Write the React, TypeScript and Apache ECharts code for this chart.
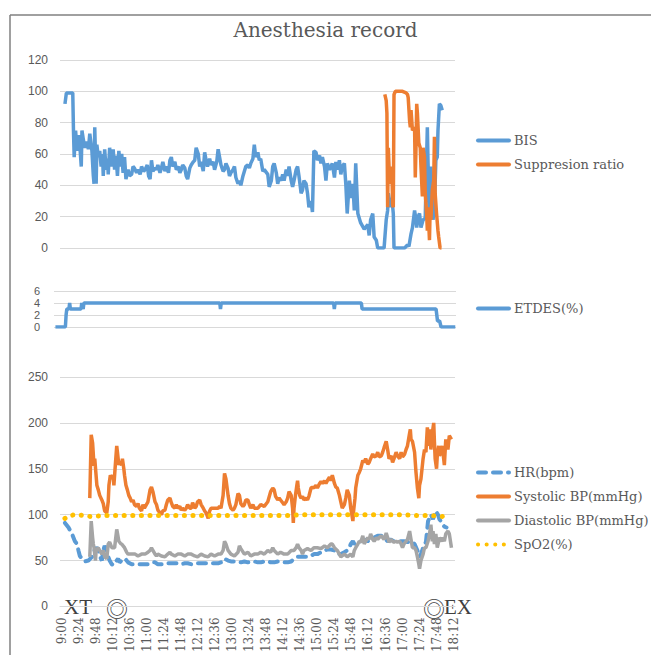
import React, { useEffect, useRef } from "react";
import * as echarts from "echarts";

// ---- Data (time = minutes after 9:00) ----
const tickMinutes = [0, 24, 48, 72, 96, 120, 144, 168, 192, 216, 240, 264, 288, 312, 336, 360, 384, 408, 432, 456, 480, 504, 528, 552];

const bisTimes = [4, 6, 10, 15, 16, 17, 19, 21, 23, 25, 27, 28, 30, 32, 35, 37, 39, 42, 44, 45, 46, 48, 49, 51, 53, 55, 57, 58, 60, 62, 64, 65, 67, 69, 70, 72, 74, 76, 78, 80, 82, 84, 86, 88, 90, 93, 95, 98, 100, 102, 105, 107, 110, 112, 115, 117, 120, 122, 124, 126, 128, 131, 133, 135, 138, 140, 142, 145, 147, 150, 152, 154, 156, 159, 161, 164, 166, 168, 170, 173, 175, 177, 180, 182, 185, 187, 189, 192, 194, 196, 199, 201, 203, 205, 208, 210, 213, 215, 218, 220, 222, 224, 227, 229, 231, 234, 236, 238, 241, 243, 245, 248, 250, 252, 255, 257, 259, 262, 264, 266, 269, 271, 273, 276, 278, 280, 283, 285, 290, 292, 295, 297, 299, 302, 304, 306, 309, 311, 313, 316, 318, 320, 323, 325, 327, 330, 332, 334, 337, 339, 341, 344, 346, 348, 351, 353, 355, 358, 360, 363, 365, 367, 370, 372, 374, 377, 379, 381, 384, 386, 388, 391, 393, 395, 398, 400, 402, 405, 407, 410, 412, 414, 417, 421, 426, 431, 433, 435, 438, 440, 443, 445, 450, 454, 457, 459, 460, 463, 465, 467, 468, 473, 478, 483, 487, 489, 492, 494, 497, 499, 500, 502, 504, 506, 509, 512, 515, 516, 518, 520, 523, 525, 527, 529, 530, 532, 534, 536];
const bisValues = [92, 99, 99, 99, 75, 58, 75, 62, 72, 65, 52, 75, 69, 64, 68, 63, 73, 62, 46, 41, 77, 41, 66, 58, 62, 52, 60, 46, 63, 50, 57, 47, 64, 52, 56, 63, 50, 59, 46, 62, 52, 60, 48, 58, 44, 50, 46, 47, 52, 51, 48, 50, 47, 52, 49, 50, 53, 46, 44, 56, 49, 51, 50, 53, 48, 51, 55, 49, 52, 48, 56, 58, 52, 55, 50, 52, 48, 50, 53, 51, 46, 44, 51, 53, 55, 56, 64, 60, 52, 55, 49, 61, 56, 52, 57, 53, 55, 50, 55, 63, 58, 53, 49, 50, 54, 51, 46, 48, 50, 52, 45, 41, 43, 40, 46, 49, 52, 53, 51, 54, 57, 66, 58, 61, 56, 57, 49, 50, 47, 39, 43, 52, 54, 48, 41, 45, 43, 47, 43, 50, 46, 52, 43, 39, 43, 50, 52, 46, 35, 37, 43, 41, 35, 26, 30, 23, 62, 61, 56, 59, 54, 58, 52, 43, 54, 50, 52, 54, 45, 55, 50, 56, 47, 52, 54, 41, 22, 43, 32, 41, 24, 54, 22, 16, 12, 15, 8, 18, 22, 7, 5, 0, 0, 0, 18, 24, 35, 26, 32, 22, 0, 0, 0, 0, 2, 1, 9, 13, 24, 18, 13, 20, 22, 13, 18, 19, 77, 54, 22, 52, 18, 26, 56, 58, 75, 92, 91, 88];

const srTimes = [455, 457, 458, 459, 460, 461, 463, 465, 466, 467, 468, 470, 475, 480, 485, 487, 488, 490, 491, 492, 494, 497, 498, 499, 500, 501, 503, 505, 506, 508, 509, 511, 512, 514, 515, 516, 518, 519, 520, 522, 524, 525, 526, 528, 530, 531, 533, 535];
const srValues = [98, 94, 86, 26, 64, 52, 41, 52, 28, 26, 98, 100, 100, 100, 99, 98, 96, 81, 77, 88, 75, 77, 45, 64, 92, 86, 67, 64, 52, 33, 64, 58, 35, 22, 11, 26, 5, 26, 18, 37, 43, 71, 35, 22, 11, 7, 0, 0];

const etTimes = [-9, 5, 6, 7, 10, 11, 12, 14, 27, 28, 30, 31, 33, 222, 223, 224, 382, 383, 384, 421, 422, 526, 528, 531, 533, 553];
const etValues = [0, 0, 2, 3, 3, 4, 3, 3, 3, 4, 3, 4, 4, 4, 3, 4, 4, 3, 4, 4, 3, 3, 1, 1, 0, 0];

const hrTimes = [4, 9, 14, 18, 21, 23, 25, 28, 30, 32, 37, 42, 44, 46, 49, 51, 53, 56, 58, 60, 63, 65, 67, 70, 72, 74, 77, 79, 81, 84, 86, 89, 93, 98, 103, 107, 112, 117, 121, 126, 131, 135, 140, 145, 149, 154, 159, 163, 168, 173, 177, 182, 187, 191, 196, 201, 206, 210, 215, 220, 224, 229, 234, 238, 243, 248, 252, 257, 262, 266, 271, 276, 280, 285, 290, 294, 299, 304, 308, 313, 318, 323, 327, 332, 337, 341, 346, 351, 355, 360, 365, 370, 374, 379, 384, 388, 393, 398, 402, 405, 407, 410, 412, 417, 421, 426, 431, 435, 440, 445, 450, 454, 459, 463, 468, 473, 478, 482, 487, 492, 497, 501, 504, 506, 509, 511, 513, 516, 518, 520, 523, 525, 527, 530, 532, 534, 537, 539, 542];
const hrValues = [91, 86, 79, 71, 68, 61, 55, 52, 50, 49, 50, 54, 57, 62, 64, 62, 55, 50, 61, 66, 61, 54, 50, 46, 45, 46, 50, 52, 48, 50, 50, 52, 48, 46, 46, 46, 46, 46, 46, 48, 48, 46, 46, 46, 47, 47, 47, 47, 46, 47, 47, 46, 47, 47, 47, 47, 47, 47, 47, 47, 48, 52, 50, 49, 49, 48, 48, 49, 48, 48, 49, 48, 48, 49, 49, 48, 48, 49, 49, 48, 48, 49, 52, 54, 54, 54, 54, 55, 57, 57, 59, 61, 62, 62, 61, 57, 57, 59, 61, 64, 68, 71, 68, 70, 71, 73, 71, 73, 75, 77, 77, 75, 71, 73, 71, 70, 71, 71, 70, 71, 68, 61, 54, 57, 64, 68, 70, 93, 96, 100, 95, 100, 104, 100, 95, 93, 89, 87, 86];

const sysTimes = [39, 41, 43, 45, 46, 49, 51, 53, 56, 58, 60, 63, 65, 66, 68, 70, 72, 73, 75, 77, 78, 80, 81, 84, 85, 87, 88, 90, 92, 94, 96, 98, 100, 102, 105, 107, 109, 112, 114, 116, 121, 124, 126, 128, 131, 133, 135, 138, 140, 142, 145, 147, 149, 152, 154, 156, 159, 161, 163, 166, 168, 170, 173, 175, 177, 180, 182, 184, 187, 189, 191, 194, 196, 199, 201, 203, 206, 208, 210, 213, 215, 220, 222, 224, 227, 229, 231, 234, 236, 238, 241, 243, 245, 248, 250, 252, 255, 257, 259, 262, 264, 266, 269, 271, 276, 280, 285, 290, 294, 297, 299, 301, 304, 306, 308, 311, 313, 316, 318, 320, 323, 325, 326, 327, 329, 331, 332, 333, 335, 337, 339, 341, 344, 346, 348, 351, 353, 355, 358, 360, 363, 365, 367, 370, 372, 374, 377, 379, 381, 384, 386, 388, 391, 393, 395, 398, 400, 402, 405, 407, 410, 411, 413, 414, 417, 419, 421, 424, 426, 428, 431, 433, 435, 438, 440, 443, 445, 447, 450, 452, 454, 457, 459, 461, 464, 466, 468, 471, 473, 476, 478, 480, 483, 485, 487, 490, 491, 492, 494, 497, 499, 501, 503, 504, 506, 509, 511, 513, 515, 516, 517, 518, 520, 522, 524, 525, 526, 528, 529, 531, 532, 534, 536, 538, 539, 541, 542, 544, 546, 549];
const sysValues = [118, 187, 178, 153, 161, 132, 127, 121, 116, 112, 104, 102, 114, 132, 143, 139, 143, 132, 154, 175, 168, 154, 158, 154, 161, 150, 143, 132, 127, 121, 118, 114, 116, 111, 109, 112, 107, 104, 111, 107, 114, 127, 130, 125, 114, 111, 105, 102, 100, 104, 105, 111, 116, 118, 113, 109, 107, 111, 107, 109, 105, 107, 105, 107, 111, 107, 107, 113, 107, 109, 114, 116, 111, 107, 104, 102, 96, 104, 107, 107, 107, 107, 109, 107, 121, 145, 139, 121, 112, 107, 105, 107, 111, 123, 121, 112, 109, 111, 116, 116, 111, 107, 111, 107, 107, 111, 109, 114, 125, 129, 127, 120, 116, 118, 116, 113, 111, 114, 118, 125, 121, 107, 91, 107, 121, 132, 137, 129, 121, 118, 120, 116, 118, 116, 120, 129, 130, 129, 132, 129, 134, 136, 134, 137, 134, 137, 141, 137, 143, 134, 130, 129, 121, 114, 107, 111, 118, 127, 121, 107, 93, 104, 118, 129, 143, 146, 150, 159, 157, 161, 155, 157, 161, 166, 163, 164, 168, 163, 164, 168, 173, 180, 171, 161, 164, 157, 161, 168, 164, 161, 168, 163, 166, 171, 175, 189, 193, 182, 180, 168, 146, 129, 118, 132, 139, 161, 171, 168, 195, 186, 175, 193, 171, 189, 200, 179, 161, 150, 164, 175, 164, 168, 175, 161, 154, 182, 179, 171, 186, 182, 188];

const diaTimes = [39, 41, 43, 44, 45, 47, 48, 51, 53, 56, 58, 60, 63, 65, 67, 70, 72, 74, 77, 78, 80, 83, 84, 86, 88, 91, 93, 98, 103, 107, 112, 117, 121, 124, 126, 128, 131, 133, 135, 140, 145, 149, 152, 154, 159, 163, 168, 173, 177, 182, 187, 191, 196, 201, 206, 210, 215, 220, 224, 227, 229, 231, 234, 238, 243, 248, 250, 252, 257, 262, 266, 271, 276, 280, 285, 290, 294, 297, 299, 304, 308, 313, 318, 323, 327, 330, 332, 334, 337, 339, 341, 346, 351, 355, 360, 365, 370, 374, 379, 381, 384, 388, 393, 398, 402, 407, 410, 412, 414, 417, 419, 421, 424, 426, 428, 431, 433, 435, 438, 440, 443, 445, 447, 450, 452, 454, 457, 459, 461, 464, 466, 468, 471, 473, 476, 478, 480, 482, 485, 487, 490, 492, 494, 497, 499, 501, 503, 504, 506, 509, 511, 513, 516, 518, 520, 522, 523, 525, 527, 529, 531, 532, 535, 537, 539, 541, 544, 546, 549];
const diaValues = [54, 93, 75, 68, 64, 50, 61, 64, 61, 57, 61, 54, 52, 68, 70, 64, 64, 64, 84, 80, 71, 68, 68, 66, 64, 59, 57, 57, 57, 55, 57, 57, 59, 61, 64, 61, 57, 55, 57, 55, 54, 57, 59, 57, 55, 57, 57, 55, 57, 57, 55, 54, 57, 55, 54, 57, 55, 57, 57, 61, 71, 68, 61, 57, 55, 59, 66, 63, 57, 59, 55, 57, 57, 59, 57, 61, 59, 64, 61, 57, 59, 57, 57, 61, 61, 64, 68, 64, 61, 57, 61, 63, 61, 64, 64, 63, 66, 64, 68, 68, 64, 61, 54, 57, 54, 57, 54, 61, 64, 68, 71, 70, 77, 68, 71, 75, 73, 79, 73, 71, 75, 73, 75, 77, 75, 73, 80, 75, 70, 73, 71, 70, 71, 70, 71, 68, 64, 68, 71, 73, 82, 73, 64, 64, 61, 54, 46, 41, 50, 57, 64, 64, 71, 79, 89, 71, 82, 68, 79, 64, 71, 75, 71, 75, 71, 79, 82, 79, 64];

const spo2Times = [4, 10, 20, 30, 40, 60, 80, 100, 120, 140, 160, 180, 200, 220, 240, 260, 280, 300, 320, 340, 360, 380, 400, 420, 440, 460, 480, 500, 520, 535, 548];
const spo2Values = [96, 99, 100, 99, 98, 99, 99, 99, 99, 99, 99, 99, 99, 99, 99, 99, 99, 99, 99, 100, 100, 100, 100, 100, 100, 100, 100, 99, 99, 98, 99];

const pair = (t: number[], v: number[]) => t.map((x, i) => [x, v[i]]);
const timeLabel = (v: number) => {
  const h = 9 + Math.floor(v / 60);
  const m = Math.round(v % 60);
  return `${h}:${String(m).padStart(2, "0")}`;
};

const TXT = "#595959";
const GRID_LINE = "#D9D9D9";
const SERIF = "'DejaVu Serif', 'Liberation Serif', serif";
const SERIF2 = "'Liberation Serif', serif";
const SANS = "'Liberation Sans', Arial, sans-serif";

export default function App() {
  const ref = useRef<HTMLDivElement>(null);
  useEffect(() => {
    if (!ref.current) return;
    const chart = echarts.init(ref.current, undefined, { renderer: "svg" });
    const lineSeries = (name: string, data: number[][], color: string, idx: number, extra: any = {}) => ({
      type: "line",
      name,
      data,
      xAxisIndex: idx,
      yAxisIndex: idx,
      symbol: "none",
      showSymbol: false,
      connectNulls: false,
      lineStyle: { color, width: 3.5, ...(extra.lineStyle || {}) },
      itemStyle: { color },
    });
    const hiddenX = (gi: number, min: number) => ({
      type: "value",
      gridIndex: gi,
      min,
      max: 554,
      show: false,
      splitLine: { show: false },
    });
    const yAx = (gi: number, max: number, interval: number, margin: number, fontSize = 12) => ({
      type: "value",
      gridIndex: gi,
      min: 0,
      max,
      interval,
      axisLine: { show: false },
      axisTick: { show: false },
      axisLabel: { color: TXT, fontSize, lineHeight: fontSize, fontFamily: SANS, margin },
      splitLine: { lineStyle: { color: GRID_LINE, width: 1 } },
    });
    const legendBase = {
      orient: "vertical",
      left: 476,
      padding: 0,
      itemWidth: 31,
      itemHeight: 14,
      itemGap: 11,
      itemStyle: { opacity: 0 },
      lineStyle: { width: 4, cap: "round" },
      textStyle: { color: TXT, fontSize: 13, fontFamily: SERIF },
    };
    chart.setOption({
      animation: false,
      title: {
        text: "Anesthesia record",
        left: "center",
        top: 15,
        textStyle: { color: TXT, fontSize: 20, fontWeight: "normal", fontFamily: SERIF },
      },
      grid: [
        { left: 60, width: 395, top: 60, height: 188 },
        { left: 54, width: 402, top: 291, height: 36 },
        { left: 60, width: 395, top: 377, height: 233 },
      ],
      xAxis: [
        hiddenX(0, -3),
        hiddenX(1, -11),
        {
          type: "value",
          gridIndex: 2,
          min: -3,
          max: 554,
          axisLine: { show: true, lineStyle: { color: GRID_LINE } },
          axisTick: { show: false },
          splitLine: { show: false },
          axisLabel: {
            customValues: tickMinutes,
            formatter: (v: number) => timeLabel(v),
            rotate: 90,
            color: TXT,
            fontSize: 12,
            fontFamily: SERIF,
            margin: 11,
          },
        },
      ],
      yAxis: [yAx(0, 120, 20, 12), yAx(1, 6, 2, 14, 11), yAx(2, 250, 50, 12)],
      legend: [
        { ...legendBase, top: 134, data: ["BIS", "Suppresion ratio"] },
        { ...legendBase, top: 302, data: ["ETDES(%)"] },
        { ...legendBase, top: 466, data: ["HR(bpm)", "Systolic BP(mmHg)", "Diastolic BP(mmHg)", "SpO2(%)"] },
      ],
      series: [
        lineSeries("BIS", pair(bisTimes, bisValues), "#5B9BD5", 0),
        lineSeries("Suppresion ratio", pair(srTimes, srValues), "#ED7D31", 0),
        lineSeries("ETDES(%)", pair(etTimes, etValues), "#5B9BD5", 1),
        lineSeries("HR(bpm)", pair(hrTimes, hrValues), "#5B9BD5", 2, {
          lineStyle: { type: [8, 7], cap: "round", width: 4 },
        }),
        lineSeries("Systolic BP(mmHg)", pair(sysTimes, sysValues), "#ED7D31", 2),
        lineSeries("Diastolic BP(mmHg)", pair(diaTimes, diaValues), "#A5A5A5", 2),
        lineSeries("SpO2(%)", pair(spo2Times, spo2Values), "#FFC000", 2, {
          lineStyle: { type: [0.1, 8.5], cap: "round", width: 5 },
        }),
      ],
      graphic: [
        { type: "line", shape: { x1: 10, y1: 15, x2: 651, y2: 15 }, style: { stroke: "#808080", lineWidth: 1.5 } },
        { type: "line", shape: { x1: 10, y1: 15, x2: 10, y2: 655 }, style: { stroke: "#808080", lineWidth: 1.5 } },
        { type: "text", x: 64, y: 607, style: { text: "XT", fontSize: 21, fontFamily: SERIF2, fill: "#404040", verticalAlign: "middle" } },
        { type: "text", x: 117, y: 607, style: { text: "◎", fontSize: 22, fontFamily: "'Noto Sans CJK JP'", fill: "#404040", align: "center", verticalAlign: "middle" } },
        { type: "text", x: 434, y: 607, style: { text: "◎", fontSize: 22, fontFamily: "'Noto Sans CJK JP'", fill: "#404040", align: "center", verticalAlign: "middle" } },
        { type: "text", x: 444, y: 607, style: { text: "EX", fontSize: 21, fontFamily: SERIF2, fill: "#404040", verticalAlign: "middle" } },
      ],
    });
    return () => chart.dispose();
  }, []);
  return <div ref={ref} style={{ position: "absolute", left: 0, top: 0, width: 651, height: 655 }} />;
}
